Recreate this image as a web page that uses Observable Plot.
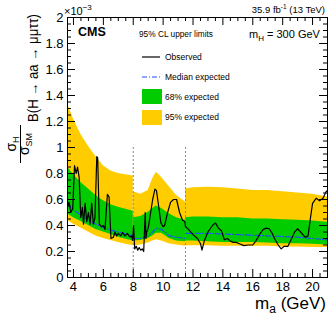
<!DOCTYPE html>
<html><head><meta charset="utf-8">
<script src="https://cdn.jsdelivr.net/npm/d3@7"></script>
<script src="https://cdn.jsdelivr.net/npm/@observablehq/plot@0.6"></script>
<style>body{margin:0;background:#fff}svg{display:block}</style>
</head><body><div id="chart"></div>
<script>
// values in units of 1e-3
const bandX   = [3.6,4.0,4.5,5.0,5.5,6.0,6.5,7.0,7.5,8.0, 8.0,8.5,9.0,9.3,9.55,9.9,10.4,10.9,11.5, 11.5,12,13,14,15,16,17,18,19,20,21];
const bandSeg = [1,1,1,1,1,1,1,1,1,1, 2,2,2,2,2,2,2,2,2, 3,3,3,3,3,3,3,3,3,3,3];
const yellowHi = [1.34,1.22,1.10,1.01,0.93,0.86,0.82,0.80,0.79,0.78, 0.66,0.64,0.67,0.76,0.81,0.77,0.70,0.63,0.58, 0.68,0.69,0.695,0.69,0.68,0.67,0.67,0.66,0.65,0.64,0.62];
const greenHi  = [0.85,0.79,0.73,0.68,0.63,0.59,0.56,0.54,0.525,0.51, 0.46,0.47,0.50,0.53,0.55,0.53,0.49,0.46,0.44, 0.46,0.465,0.465,0.46,0.46,0.45,0.45,0.445,0.44,0.435,0.425];
const median   = [0.56,0.52,0.48,0.44,0.41,0.385,0.365,0.35,0.335,0.32, 0.30,0.30,0.32,0.35,0.38,0.37,0.32,0.31,0.30, 0.34,0.34,0.34,0.335,0.33,0.325,0.32,0.315,0.31,0.30,0.29];
const greenLo  = [0.49,0.46,0.43,0.40,0.37,0.35,0.33,0.31,0.295,0.28, 0.28,0.285,0.30,0.32,0.34,0.34,0.30,0.28,0.275, 0.28,0.28,0.275,0.27,0.27,0.27,0.265,0.26,0.26,0.255,0.25];
const yellowLo = [0.44,0.41,0.38,0.35,0.32,0.30,0.285,0.27,0.255,0.245, 0.245,0.25,0.265,0.28,0.29,0.28,0.26,0.25,0.24, 0.245,0.245,0.245,0.24,0.24,0.24,0.24,0.235,0.235,0.23,0.23];

const obsX = [3.62,3.7,3.82,3.95,4.07,4.18,4.27,4.38,4.49,4.6,
  4.67,4.78,4.89,5.0,5.11,5.22,5.33,5.44,5.56,5.62,
  5.73,5.89,6.0,6.11,6.27,6.38,6.51,6.67,6.78,6.89,
  7.0,7.16,7.29,7.44,7.6,7.78,7.89,7.96,8.02,8.1,
  8.2,8.3,8.4,8.5,8.6,8.7,8.8,8.85,8.9,9.0,
  9.1,9.3,9.45,9.55,9.7,9.85,10.0,10.1,10.3,10.5,
  10.7,10.9,11.1,11.3,11.45,11.5,11.7,12.0,12.3,12.5,
  12.6,12.75,13.0,13.3,13.5,13.7,13.9,14.1,14.3,14.5,
  14.7,14.9,15.1,15.4,15.7,16.0,16.2,16.5,16.7,16.9,
  17.1,17.3,17.5,17.7,17.9,18.1,18.35,18.6,18.8,19.0,
  19.2,19.5,19.7,19.85,20.0,20.25,20.47,20.7,20.9,21.0];
const obsY = [0.55,0.58,0.50,0.53,0.86,0.80,0.85,0.77,0.46,0.54,
  0.41,0.57,0.43,0.50,0.41,0.57,0.41,0.46,0.93,0.92,
  0.41,0.39,0.40,0.37,0.64,0.62,0.30,0.31,0.35,0.32,
  0.34,0.32,0.345,0.32,0.34,0.31,0.32,0.285,0.40,0.22,
  0.24,0.21,0.23,0.21,0.22,0.20,0.50,0.30,0.35,0.38,
  0.45,0.60,0.68,0.67,0.55,0.42,0.39,0.40,0.50,0.58,
  0.60,0.60,0.50,0.44,0.43,0.39,0.37,0.33,0.30,0.26,
  0.21,0.28,0.35,0.40,0.42,0.38,0.36,0.29,0.30,0.28,
  0.27,0.27,0.26,0.245,0.25,0.25,0.28,0.34,0.37,0.38,
  0.375,0.34,0.29,0.25,0.22,0.24,0.24,0.30,0.35,0.375,
  0.35,0.31,0.32,0.45,0.57,0.61,0.59,0.61,0.66,0.67];

const dividers = [8, 11.5];
const dividerTop = 1.0;
const xLabelTicks = [4,6,8,10,12,14,16,18,20];
const yLabelTicks = [0,0.2,0.4,0.6,0.8,1,1.2,1.4,1.6,1.8,2];
const xMinorTicks = d3.range(4, 21.01, 0.5).filter(v => v % 2 !== 0);
const yMinorTicks = d3.range(0, 2.001, 0.05).map(v => +v.toFixed(2)).filter(v => Math.round(v*100) % 20 !== 0);

const bands = bandX.map((x,i) => ({x, seg: bandSeg[i], yHi: yellowHi[i], gHi: greenHi[i], med: median[i], gLo: greenLo[i], yLo: yellowLo[i]}));
const obs = obsX.map((x,i) => ({x, y: obsY[i]}));

const ff = "Liberation Sans, Arial, Helvetica, sans-serif";
const W = 332, H = 319, mL = 67, mR = 5, mT = 17, mB = 42;
const pw = W - mL - mR, ph = H - mT - mB;

const plot = Plot.plot({
  width: W, height: H,
  marginLeft: mL, marginRight: mR, marginTop: mT, marginBottom: mB,
  style: {fontFamily: ff, background: "white", color: "black"},
  x: {domain: [3.6, 21]},
  y: {domain: [0, 2]},
  marks: [
    Plot.areaY(bands, {x: "x", y1: "yLo", y2: "yHi", z: "seg", fill: "#ffcc00"}),
    Plot.areaY(bands, {x: "x", y1: "gLo", y2: "gHi", z: "seg", fill: "#00cc00"}),
    Plot.line(bands, {x: "x", y: "med", z: "seg", stroke: "#1f4fff", strokeWidth: 1.2, strokeDasharray: "5,2,1,2"}),
    Plot.ruleX(dividers, {x: d => d, y1: 0, y2: dividerTop, stroke: "#8a8a8a", strokeWidth: 1, strokeDasharray: "2,2"}),
    Plot.line(obs, {x: "x", y: "y", stroke: "black", strokeWidth: 1.2}),
    // inward ticks
    Plot.tickX(xLabelTicks, {x: d => d, insetTop: ph - 8, stroke: "black"}),
    Plot.tickX(xLabelTicks, {x: d => d, insetBottom: ph - 8, stroke: "black"}),
    Plot.tickX(xMinorTicks, {x: d => d, insetTop: ph - 4, stroke: "black"}),
    Plot.tickX(xMinorTicks, {x: d => d, insetBottom: ph - 4, stroke: "black"}),
    Plot.tickY(yLabelTicks, {y: d => d, insetRight: pw - 8, stroke: "black"}),
    Plot.tickY(yLabelTicks, {y: d => d, insetLeft: pw - 8, stroke: "black"}),
    Plot.tickY(yMinorTicks, {y: d => d, insetRight: pw - 4, stroke: "black"}),
    Plot.tickY(yMinorTicks, {y: d => d, insetLeft: pw - 4, stroke: "black"}),
    Plot.axisX(xLabelTicks, {tickSize: 0, tickPadding: 4, fontSize: 13, label: null}),
    Plot.axisY(yLabelTicks, {tickSize: 0, tickPadding: 4, fontSize: 13, label: null, tickFormat: d3.format("~g")}),
    Plot.frame({stroke: "black", strokeWidth: 1})
  ]
});
document.getElementById("chart").appendChild(plot);

const svg = d3.select(plot);
function txt(parent, x, y, size, anchor, weight) {
  return parent.append("text").attr("x", x).attr("y", y)
    .attr("font-family", ff).attr("font-size", size)
    .attr("text-anchor", anchor || "start").attr("font-weight", weight || "normal").attr("fill", "black");
}
// x10^-3
let t = txt(svg, 64, 15, 11);
t.append("tspan").text("×10");
t.append("tspan").attr("dy", -5).attr("font-size", 8).text("−3");
// lumi
t = txt(svg, 325, 13, 9.5, "end");
t.append("tspan").text("35.9 fb");
t.append("tspan").attr("dy", -4).attr("font-size", 6.5).text("-1");
t.append("tspan").attr("dy", 4).text(" (13 TeV)");
// CMS
txt(svg, 78, 36, 12.5, "start", "bold").text("CMS");
// mH
t = txt(svg, 249, 38, 11);
t.append("tspan").text("m");
t.append("tspan").attr("dy", 3).attr("font-size", 8).text("H");
t.append("tspan").attr("dy", -3).text(" = 300 GeV");
// legend
txt(svg, 139, 37, 8.3).text("95% CL upper limits");
svg.append("line").attr("x1", 142).attr("x2", 160).attr("y1", 57).attr("y2", 57).attr("stroke", "black").attr("stroke-width", 1.2);
txt(svg, 165, 60, 8.5).text("Observed");
svg.append("line").attr("x1", 142).attr("x2", 160).attr("y1", 77).attr("y2", 77).attr("stroke", "#1f4fff").attr("stroke-width", 1.2).attr("stroke-dasharray", "5,2,1,2");
txt(svg, 165, 80, 8.5).text("Median expected");
svg.append("rect").attr("x", 142).attr("y", 89).attr("width", 20).attr("height", 15).attr("fill", "#00cc00");
txt(svg, 165, 100, 8.5).text("68% expected");
svg.append("rect").attr("x", 142).attr("y", 110).attr("width", 20).attr("height", 15).attr("fill", "#ffcc00");
txt(svg, 165, 120, 8.5).text("95% expected");
// x title
t = txt(svg, 326, 309, 17, "end");
t.append("tspan").text("m");
t.append("tspan").attr("dy", 4).attr("font-size", 12).text("a");
t.append("tspan").attr("dy", -4).text(" (GeV)");
// y title (rotated)
const g = svg.append("g").attr("transform", "translate(38,0) rotate(-90)");
txt(g, -14, 0, 14, "end").attr("textLength", 108).attr("lengthAdjust", "spacingAndGlyphs").text("B(H → aa → μμττ)");
t = txt(g, -144, -22, 14, "middle");
t.append("tspan").text("σ");
t.append("tspan").attr("dy", 3).attr("font-size", 9).text("H");
t = txt(g, -144, -9, 14, "middle");
t.append("tspan").text("σ");
t.append("tspan").attr("dy", 3).attr("font-size", 9).text("SM");
g.append("line").attr("x1", -163).attr("x2", -125).attr("y1", -17.5).attr("y2", -17.5).attr("stroke", "black").attr("stroke-width", 1);
</script></body></html>
